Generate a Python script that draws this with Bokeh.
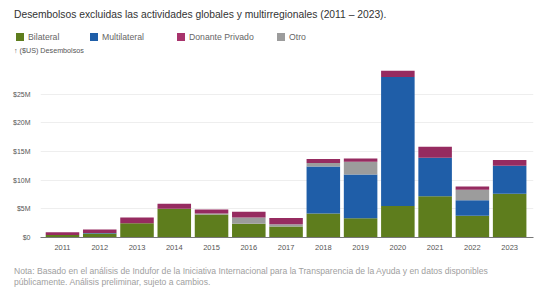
from bokeh.plotting import figure
from bokeh.models import Range1d, FixedTicker, Div
from bokeh.layouts import column
from bokeh.embed import file_html
from bokeh.resources import INLINE

years = [2011, 2012, 2013, 2014, 2015, 2016, 2017, 2018, 2019, 2020, 2021, 2022, 2023]
bilateral = [0.45, 0.7, 2.5, 5.0, 4.0, 2.4, 1.9, 4.2, 3.35, 5.5, 7.2, 3.8, 7.65]
multilateral = [0.0, 0.1, 0.0, 0.0, 0.0, 0.0, 0.0, 8.2, 7.65, 22.5, 6.7, 2.7, 4.85]
otro = [0.0, 0.0, 0.0, 0.0, 0.2, 1.1, 0.4, 0.6, 2.2, 0.0, 0.0, 1.85, 0.0]
privado = [0.45, 0.6, 1.0, 0.9, 0.7, 1.0, 1.1, 0.7, 0.6, 1.1, 1.95, 0.55, 1.0]

y_ticks = [0, 5, 10, 15, 20, 25]
y_tick_labels = ["$0", "$5M", "$10M", "$15M", "$20M", "$25M"]
series_names = ["Bilateral", "Multilateral", "Donante Privado", "Otro"]

title_text = "Desembolsos excluidas las actividades globales y multirregionales (2011 \u2013 2023)."
unit_text = "\u2191 ($US) Desembolsos"
note1 = ("Nota: Basado en el an\u00e1lisis de Indufor de la Iniciativa Internacional para la "
         "Transparencia de la Ayuda y en datos disponibles")
note2 = "p\u00fablicamente. An\u00e1lisis preliminar, sujeto a cambios."

GREEN = "#5e7d1d"
BLUE = "#1f5ea8"
PURPLE = "#962b60"
GRAY = "#9c9c9c"
legend_colors = [GREEN, BLUE, "#a8336c", GRAY]
FONT = "Liberation Sans"

W = 537
TOP_H, FIG_H, BOT_H = 65, 192, 45
ML, MR, MT, MB = 40, 4, 0, 20

# ---- header (subtitle, legend, unit label)
def abs_span(text, left, top, size, color, lh):
    return (f'<div style="position:absolute;left:{left}px;top:{top}px;font-family:\'{FONT}\';'
            f'font-size:{size};line-height:{lh}px;color:{color};white-space:nowrap;">{text}</div>')

header = abs_span(title_text, 14, 9, "10.3px", "#333333", 12)
sq_left = [16, 90, 177, 277]
for name, col, lx in zip(series_names, legend_colors, sq_left):
    header += (f'<div style="position:absolute;left:{lx}px;top:33px;width:8px;height:8px;'
               f'background:{col};"></div>')
    header += abs_span(name, lx + 12, 32, "8.7px", "#666666", 10)
header += abs_span(unit_text, 14, 47, "7.2px", "#555555", 8)
top_div = Div(text=f'<div style="position:relative;width:{W}px;height:{TOP_H}px;">{header}</div>',
              width=W, height=TOP_H, margin=0)

# ---- chart
p = figure(width=W, height=FIG_H, output_backend="svg", toolbar_location=None,
           x_range=Range1d(2010.41, 2023.64), y_range=Range1d(0, 30),
           min_border_left=ML, min_border_right=MR, min_border_top=MT, min_border_bottom=MB,
           margin=0)
p.outline_line_color = None
p.background_fill_color = "white"
p.border_fill_color = "white"

source = dict(years=years, Bilateral=bilateral, Multilateral=multilateral,
              Otro=otro, Privado=privado)
p.vbar_stack(["Bilateral", "Multilateral", "Otro", "Privado"], x="years", width=0.9,
             color=[GREEN, BLUE, GRAY, PURPLE], line_color=None, source=source)

p.xaxis.ticker = FixedTicker(ticks=years)
p.xaxis.major_tick_line_color = None
p.xaxis.minor_tick_line_color = None
p.xaxis.axis_line_color = "#777777"
p.xaxis.major_label_text_font = FONT
p.xaxis.major_label_text_font_size = "7.5px"
p.xaxis.major_label_text_color = "#555555"
p.xaxis.major_label_standoff = 1

p.yaxis.ticker = FixedTicker(ticks=y_ticks)
p.yaxis.major_label_overrides = {t: l for t, l in zip(y_ticks, y_tick_labels)}
p.yaxis.axis_line_color = None
p.yaxis.major_tick_line_color = None
p.yaxis.minor_tick_line_color = None
p.yaxis.major_label_text_font = FONT
p.yaxis.major_label_text_font_size = "7px"
p.yaxis.major_label_text_color = "#555555"
p.yaxis.major_label_standoff = 4

p.xgrid.grid_line_color = None
p.ygrid.grid_line_color = "#eeeeee"

# ---- footer notes
footer = abs_span(note1, 14, 9, "8.6px", "#a0a0a0", 11)
footer += abs_span(note2, 14, 20, "8.6px", "#a0a0a0", 11)
bot_div = Div(text=f'<div style="position:relative;width:{W}px;height:{BOT_H}px;">{footer}</div>',
              width=W, height=BOT_H, margin=0)

layout = column(top_div, p, bot_div, spacing=0, margin=0)
open("out.html", "w").write(file_html(layout, INLINE))
